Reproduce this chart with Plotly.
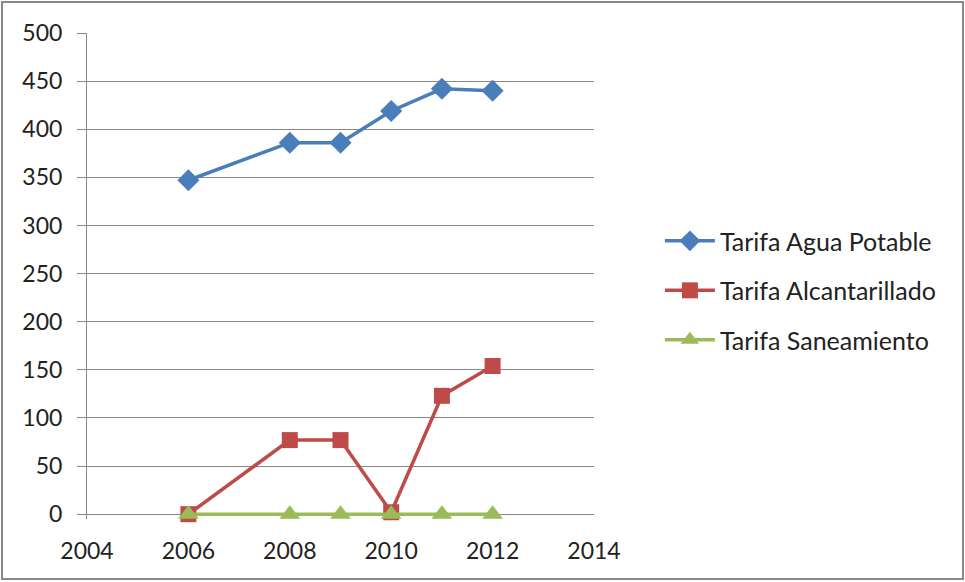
import plotly.graph_objects as go

years = [2006, 2008, 2009, 2010, 2011, 2012]
agua = [347, 386, 386, 419, 442, 440]
alcant = [0, 77, 77, 2, 123, 154]
saneam = [0, 0, 0, 0, 0, 0]

series = [
    ("Tarifa Agua Potable", agua, "#4A7EBB", "diamond", 17),
    ("Tarifa Alcantarillado", alcant, "#BE4B48", "square", 16),
    ("Tarifa Saneamiento", saneam, "#9BBB59", "triangle-up", 18),
]

fig = go.Figure()
for i, (name, vals, col, sym, sz) in enumerate(series):
    fig.add_trace(go.Scatter(
        x=years, y=vals, name=name, mode="lines+markers",
        line=dict(color=col, width=3.5),
        marker=dict(symbol=sym, size=sz, color=col),
        legendgroup=f"g{i}", cliponaxis=False,
    ))

font = "Lato, Open Sans, sans-serif"
fig.update_layout(
    width=965, height=582,
    margin=dict(l=87, r=371, t=33, b=63),
    paper_bgcolor="white", plot_bgcolor="white",
    font=dict(family=font, size=23, color="#222"),
    showlegend=True,
    legend=dict(x=1.13, y=0.47, xanchor="left", yanchor="middle",
                tracegroupgap=14, font=dict(size=25), itemwidth=50,
                bgcolor="rgba(0,0,0,0)"),
    xaxis=dict(range=[2004, 2014], tickvals=[2004, 2006, 2008, 2010, 2012, 2014],
               showgrid=False, zeroline=False, showline=False,
               ticks="", tickfont=dict(size=23), ticklabelstandoff=16),
    yaxis=dict(range=[-5, 500], tickvals=list(range(0, 501, 50)), showgrid=True,
               gridcolor="#888", gridwidth=1, zeroline=False, showline=True,
               linecolor="#888", linewidth=1, ticks="outside", ticklen=9,
               tickcolor="#888", tickfont=dict(size=23), ticklabelstandoff=10,
               layer="below traces"),
    shapes=[dict(type="rect", xref="paper", yref="paper",
                 x0=(2 - 87) / 507, x1=(963 - 87) / 507,
                 y0=(519 - 579) / 486, y1=(519 - 2) / 486,
                 line=dict(color="#888", width=2))],
)
fig.write_html("out.html")
